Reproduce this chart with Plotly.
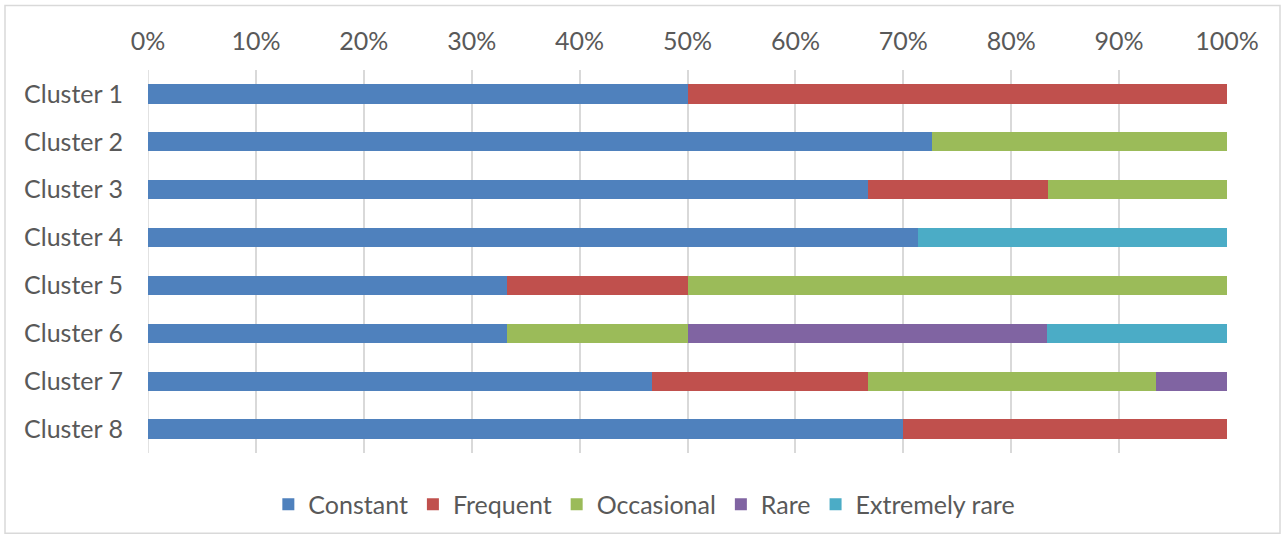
import plotly.graph_objects as go

clusters = ["Cluster 1", "Cluster 2", "Cluster 3", "Cluster 4",
            "Cluster 5", "Cluster 6", "Cluster 7", "Cluster 8"]

constant = [50.0, 72.7, 66.7, 71.4, 33.3, 33.3, 46.7, 70.0]
frequent = [50.0, 0.0, 16.7, 0.0, 16.7, 0.0, 20.0, 30.0]
occasional = [0.0, 27.3, 16.6, 0.0, 50.0, 16.7, 26.7, 0.0]
rare = [0.0, 0.0, 0.0, 0.0, 0.0, 33.3, 6.6, 0.0]
extremely_rare = [0.0, 0.0, 0.0, 28.6, 0.0, 16.7, 0.0, 0.0]

series = [
    ("Constant", constant, "#4F81BD"),
    ("Frequent", frequent, "#C0504D"),
    ("Occasional", occasional, "#9BBB59"),
    ("Rare", rare, "#8064A2"),
    ("Extremely rare", extremely_rare, "#4BACC6"),
]

W, H = 1283, 540
ML, MR, MT, MB = 148, 56, 70, 84
FONT = "Lato, 'Open Sans', sans-serif"
TXT = "#595959"
FS = 25

fig = go.Figure()
for name, vals, color in series:
    fig.add_trace(go.Bar(
        y=clusters, x=vals, name=name, orientation="h",
        marker=dict(color=color, line=dict(width=0)),
    ))

# chart-area frame in pixel terms converted to paper coordinates
pw, ph = W - ML - MR, H - MT - MB
def px_x(x):
    return (x - ML) / pw
def px_y(y):
    return 1 - (y - MT) / ph

fig.add_shape(type="rect", xref="paper", yref="paper",
              x0=px_x(5), x1=px_x(1280), y0=px_y(537), y1=px_y(5),
              line=dict(color="#D9D9D9", width=1.5), layer="below")

fig.update_layout(
    width=W, height=H,
    margin=dict(l=ML, r=MR, t=MT, b=MB),
    barmode="stack", barnorm="percent",
    bargap=0.6,
    plot_bgcolor="white", paper_bgcolor="white",
    font=dict(family=FONT, size=FS, color=TXT),
    showlegend=True,
    legend=dict(orientation="h", x=0.46, xanchor="center", y=px_y(508), yanchor="middle",
                font=dict(size=FS, color=TXT), traceorder="normal",
                itemwidth=30, tracegroupgap=0),
    xaxis=dict(side="top", range=[0, 100], dtick=10, ticksuffix="%",
               showgrid=True, gridcolor="#D9D9D9", gridwidth=1.5,
               zeroline=False, showline=False, ticks="", ticklabelstandoff=14,
               fixedrange=True),
    yaxis=dict(categoryorder="array", categoryarray=clusters, autorange="reversed",
               showgrid=False, showline=False, ticks="", ticklabelstandoff=24,
               fixedrange=True),
)
# the 0% line is drawn as a grid line as well
fig.add_shape(type="line", xref="x", yref="paper", x0=0, x1=0, y0=0, y1=1,
              line=dict(color="#D9D9D9", width=1.5), layer="below")

fig.write_html("out.html")
